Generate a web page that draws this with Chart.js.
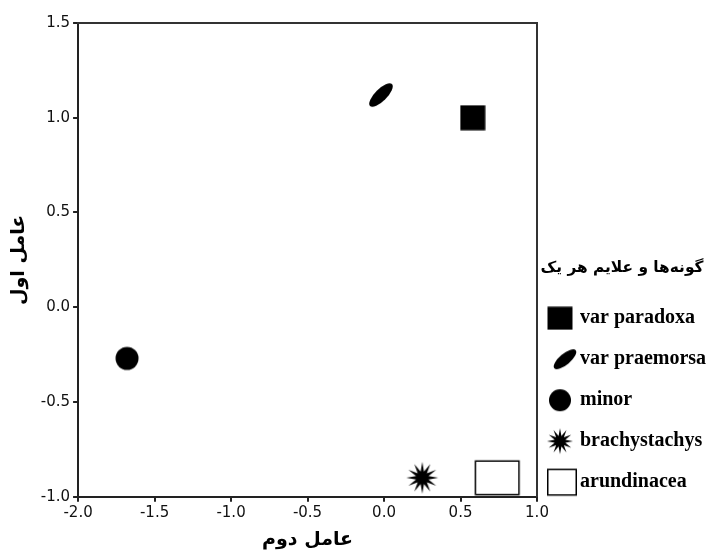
<!DOCTYPE html>
<html lang="fa">
<head>
<meta charset="utf-8">
<title>عامل اول و عامل دوم</title>
<script src="https://cdn.jsdelivr.net/npm/chart.js@4.4.1/dist/chart.umd.min.js"></script>
<style>
  html, body { margin: 0; padding: 0; background: #fff; }
  #wrap { width: 707px; height: 552px; }
</style>
</head>
<body>
<div id="wrap"><canvas id="factorChart"></canvas></div>
<script>
// species and their scores on the two factors
const speciesNames = ['var paradoxa', 'var praemorsa', 'minor', 'brachystachys', 'arundinacea'];
const factor2Scores = [0.58, -0.02, -1.68, 0.25, 0.74];   // x axis: عامل دوم
const factor1Scores = [1.0, 1.12, -0.27, -0.9, -0.9];     // y axis: عامل اول

const xTickValues = [-2.0, -1.5, -1.0, -0.5, 0.0, 0.5, 1.0];
const yTickValues = [-1.0, -0.5, 0.0, 0.5, 1.0, 1.5];

const xTitle = 'عامل دوم';
const yTitle = 'عامل اول';
const legendTitle = 'گونه‌ها و علایم هر یک';

// small canvases used as point styles
function makeIcon(w, h, draw, dx = 0) {
    const c = document.createElement('canvas');
    c.width = w;
    c.height = h;
    const g = c.getContext('2d');
    g.translate(w / 2 + dx, h / 2);
    g.fillStyle = '#000';
    g.strokeStyle = '#000';
    draw(g);
    return c;
}

const box = (w, h) => g => g.fillRect(-w / 2, -h / 2, w, h);
const openBox = (w, h) => g => { g.lineWidth = 1.5; g.strokeRect(-w / 2 + 0.75, -h / 2 + 0.75, w - 1.5, h - 1.5); };
const disc = r => g => { g.beginPath(); g.arc(0, 0, r, 0, Math.PI * 2); g.fill(); };
const oval = (a, b, angle) => g => {
    g.rotate(angle);
    g.beginPath();
    g.ellipse(0, 0, a, b, 0, 0, Math.PI * 2);
    g.fill();
};
const star = (rOut, rIn, n) => g => {
    g.beginPath();
    for (let i = 0; i < 2 * n; i++) {
        const r = i % 2 ? rIn : rOut;
        const t = i * Math.PI / n - Math.PI / 2;
        g.lineTo(r * Math.cos(t), r * Math.sin(t));
    }
    g.closePath();
    g.fill();
};

const plotMarkers = [
    makeIcon(26, 26, box(25, 25)),
    makeIcon(36, 36, oval(15.5, 6, -Math.PI / 4)),
    makeIcon(26, 26, disc(11.5)),
    makeIcon(36, 36, star(16, 6.5, 12)),
    makeIcon(48, 38, openBox(45, 35))
];

const legendMarkers = [
    makeIcon(34, 24, box(25, 23), -4),
    makeIcon(34, 28, oval(14, 5.5, -0.7), 1),
    makeIcon(34, 24, disc(11), -4),
    makeIcon(34, 28, star(13, 5.5, 12), -4),
    makeIcon(38, 30, openBox(30, 27), -2)
];

const tickFont = { family: 'DejaVu Sans', size: 15, lineHeight: 1.1 };
const titleFont = { family: 'DejaVu Sans', size: 19, weight: 'bold' };

document.addEventListener('DOMContentLoaded', function(){

    const ctx = document.getElementById('factorChart').getContext('2d');
    new Chart(ctx, {
        type: 'scatter',
        data: {
            datasets: speciesNames.map((name, i) => ({
                label: name,
                data: [{ x: factor2Scores[i], y: factor1Scores[i] }],
                pointStyle: plotMarkers[i],
                pointRadius: 18,
                backgroundColor: '#000',
                borderColor: '#000'
            }))
        },
        options: {
            animation: false,
            responsive: true,
            maintainAspectRatio: false,
            events: [],
            layout: { padding: { top: 23, right: 0, bottom: 1, left: 8 } },
            scales: {
                x: {
                    type: 'linear',
                    position: 'bottom',
                    min: xTickValues[0],
                    max: xTickValues[xTickValues.length - 1],
                    afterBuildTicks: s => { s.ticks = xTickValues.map(v => ({ value: v })); },
                    ticks: { callback: v => v.toFixed(1), font: tickFont, color: '#111', padding: 3, maxRotation: 0, autoSkip: false },
                    grid: { drawOnChartArea: false, tickLength: 5, lineWidth: 2, color: '#222' },
                    border: { color: '#222', width: 2 },
                    title: { display: true, text: xTitle, font: titleFont, color: '#000', padding: { top: 4, bottom: 0 } }
                },
                y: {
                    type: 'linear',
                    position: 'left',
                    min: yTickValues[0],
                    max: yTickValues[yTickValues.length - 1],
                    afterBuildTicks: s => { s.ticks = yTickValues.map(v => ({ value: v })); },
                    ticks: { callback: v => v.toFixed(1), font: tickFont, color: '#111', padding: 3, autoSkip: false },
                    grid: { drawOnChartArea: false, tickLength: 5, lineWidth: 2, color: '#222' },
                    border: { color: '#222', width: 2 },
                    title: { display: true, text: yTitle, font: titleFont, color: '#000', padding: { top: 0, bottom: 7 } }
                },
                // top and right edges of the frame, no room taken
                xTop: {
                    type: 'linear',
                    position: 'top',
                    min: xTickValues[0],
                    max: xTickValues[xTickValues.length - 1],
                    ticks: { display: false },
                    grid: { display: false },
                    border: { color: '#333', width: 2 },
                    afterFit: s => { s.height = 0; }
                },
                yRight: {
                    type: 'linear',
                    position: 'right',
                    min: yTickValues[0],
                    max: yTickValues[yTickValues.length - 1],
                    ticks: { display: false },
                    grid: { display: false },
                    border: { color: '#333', width: 2 },
                    afterFit: s => { s.width = 0; }
                }
            },
            plugins: {
                tooltip: { enabled: false },
                legend: {
                    position: 'right',
                    align: 'center',
                    maxWidth: 170,
                    labels: {
                        usePointStyle: true,
                        pointStyleWidth: 12,
                        padding: 21,
                        color: '#000',
                        font: { family: 'Liberation Serif', size: 20, weight: 'bold' },
                        generateLabels: chart => chart.data.datasets.map((ds, i) => ({
                            text: ds.label,
                            pointStyle: legendMarkers[i],
                            datasetIndex: i,
                            fillStyle: '#000',
                            strokeStyle: '#000',
                            lineWidth: 0,
                            hidden: false,
                            fontColor: '#000'
                        }))
                    },
                    title: {
                        display: true,
                        text: legendTitle,
                        position: 'center',
                        color: '#000',
                        font: { family: 'DejaVu Sans', size: 15.4, weight: 'bold' },
                        padding: { top: 200, bottom: 8 }
                    }
                }
            }
        }
    });

});
</script>
</body>
</html>
